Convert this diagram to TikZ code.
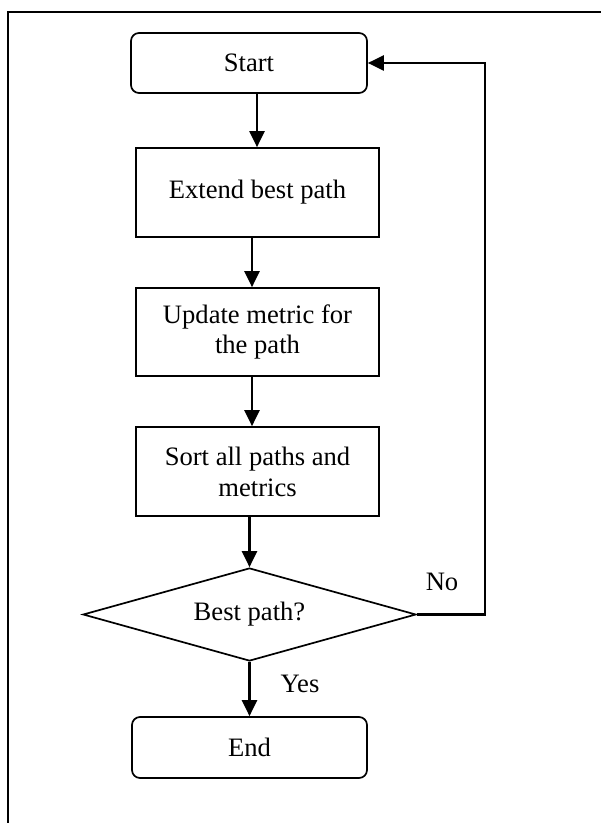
\documentclass[tikz,border=0pt]{standalone}
\usepackage{fontspec}
\setmainfont{Liberation Serif}
\usetikzlibrary{shapes.geometric,arrows.meta}
\begin{document}
\begin{tikzpicture}[x=0.5pt,y=-0.5pt,
  every node/.style={font=\fontsize{13.3}{15.4}\selectfont},
  termbox/.style={draw,line width=0.85pt,rounded corners=4pt,inner sep=0pt,align=center},
  procbox/.style={draw,line width=0.85pt,inner sep=0pt,align=center},
  decbox/.style={draw,line width=0.85pt,diamond,aspect=3.58,inner sep=0pt,align=center},
  arr/.style={line width=1.1pt,-{Triangle[length=8pt,width=7.5pt]}},
  frameline/.style={line width=1.05pt}]
\useasboundingbox (0,0) rectangle (601,823);
% open frame along the left and top edges
\draw[frameline] (8,823) -- (8,12.3) -- (601,12.3);
% flow steps
\node[termbox,minimum width=118pt,minimum height=30pt] (start) at (249,63) {Start};
\node[procbox,minimum width=121.5pt,minimum height=44.5pt] (ext) at (257.5,192.5) {Extend best path};
\node[procbox,minimum width=121.5pt,minimum height=44pt] (upd) at (257.5,332) {Update metric for\\the path};
\node[procbox,minimum width=121.5pt,minimum height=44.5pt] (sort) at (257.5,471.5) {Sort all paths and\\metrics};
\node[decbox,minimum width=166.5pt,minimum height=46.5pt] (dec) at (249.5,614.5) {Best path?};
\node[termbox,minimum width=117.5pt,minimum height=30.5pt] (end) at (249.5,747.5) {End};
% branch labels
\node (no) at (442,582) {No};
\node (yes) at (300,684) {Yes};
% vertical spine of the main flow
\coordinate (spine) at (252,0);
\coordinate (spineA) at (257,0);
\draw[arr] (start.south -| spineA) -- (ext.north -| spineA);
\draw[arr] (ext.south -| spine) -- (upd.north -| spine);
\draw[arr] (upd.south -| spine) -- (sort.north -| spine);
\draw[arr] (sort.south -| dec) -- (dec.north);
\draw[arr] (dec.south) -- (end.north);
% loop back to the start when the best path is not reached
\draw[arr] (dec.east) -- ++(68,0) |- (start.east);
\end{tikzpicture}
\end{document}
